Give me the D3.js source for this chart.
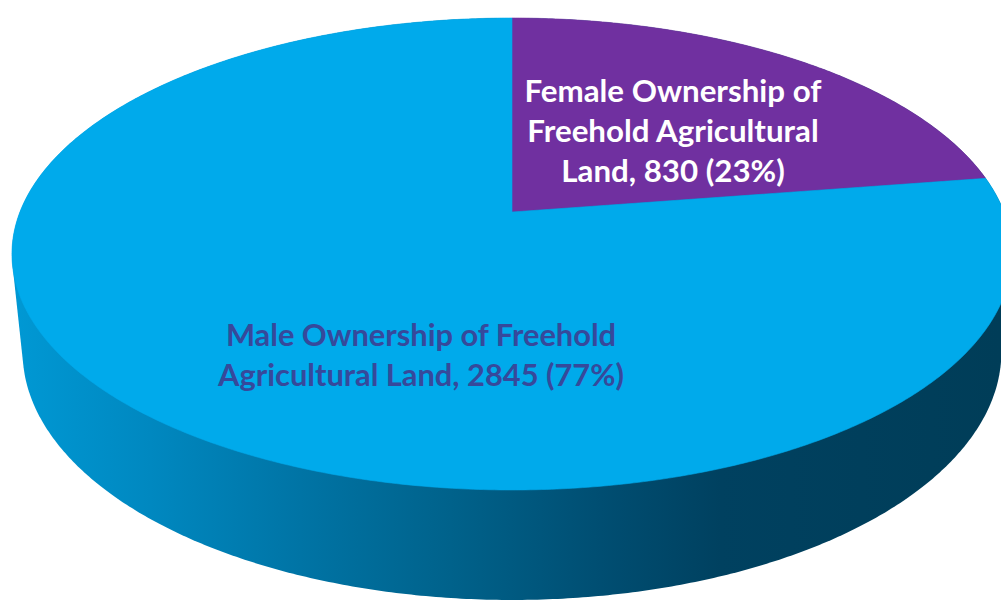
<!DOCTYPE html>
<html><head><meta charset="utf-8">
<script src="https://cdn.jsdelivr.net/npm/d3@7"></script>
<style>html,body{margin:0;padding:0;background:#fff;overflow:hidden}</style>
</head><body><svg id="chart" width="1001" height="602"></svg>
<script>
// ---- data ----
const categories = ["Female Ownership of Freehold Agricultural Land", "Male Ownership of Freehold Agricultural Land"];
const values = [830, 2845];
const labelLines = [
  ["Female Ownership of", "Freehold Agricultural", "Land, {v} ({p})"],
  ["Male Ownership of Freehold", "Agricultural Land, {v} ({p})"]
];
const sliceColors = ["#7030A0", "#00AAEB"];
const labelColors = ["#FFFFFF", "#36499B"];

// ---- layout / perspective ----
const W = 1001, H = 602;
const svg = d3.select("#chart");
const cx = 512, cy = 212, k = 2449, dist = 4.977, phi = 27.67 * Math.PI / 180, thick = 0.2263;
const c = Math.cos(phi), s = Math.sin(phi);
function proj(X, Y, Z) { const dep = dist - Y * c - Z * s; return [cx + k * X / dep, cy + k * (Y * s - Z * c) / dep]; }
function rim(a, z) { return proj(Math.sin(a), -Math.cos(a), z); }

const total = d3.sum(values);
const arcs = d3.pie().sort(null).value(d => d)(values);

// side gradient
const defs = svg.append("defs");
const grad = defs.append("linearGradient").attr("id", "side").attr("gradientUnits", "userSpaceOnUse")
  .attr("x1", 0).attr("y1", 0).attr("x2", W).attr("y2", 0);
[[0, "#009AD6"], [0.15, "#0088C0"], [0.3, "#0074A5"], [0.45, "#00628B"], [0.6, "#004E72"], [0.72, "#004160"], [1, "#003D58"]]
  .forEach(([o, col]) => grad.append("stop").attr("offset", o).attr("stop-color", col));

// cylinder silhouette (convex hull of top & bottom rims)
const N = 720;
const pts = [];
for (let i = 0; i < N; i++) { const a = 2 * Math.PI * i / N; pts.push(rim(a, 0)); pts.push(rim(a, -thick)); }
const hull = d3.polygonHull(pts);
const line = d3.line().curve(d3.curveLinearClosed);
svg.append("path").attr("d", line(hull)).attr("fill", "url(#side)");

// top face slices
arcs.forEach((arc, i) => {
  const p = [proj(0, 0, 0)];
  const n = Math.max(8, Math.ceil((arc.endAngle - arc.startAngle) / (Math.PI / 360)));
  for (let j = 0; j <= n; j++) p.push(rim(arc.startAngle + (arc.endAngle - arc.startAngle) * j / n, 0));
  svg.append("path").attr("d", line(p)).attr("fill", sliceColors[i]).attr("stroke", sliceColors[i]).attr("stroke-width", 0.6);
});

// labels
const fmtPct = v => Math.round(v / total * 100) + "%";
const labelPos = [{ x: 673, y: 101.5, dy: 40, target: 297 }, { x: 421, y: 346, dy: 39.5, target: 406 }];
labelLines.forEach((lines, i) => {
  const txt = lines.map(l => l.replace("{v}", values[i]).replace("{p}", fmtPct(values[i])));
  const g = svg.append("text").attr("text-anchor", "middle").attr("fill", labelColors[i])
    .attr("font-family", "Lato, 'Open Sans', sans-serif").attr("font-weight", "bold").attr("font-size", 30);
  const tsp = txt.map((t, j) => g.append("tspan").attr("x", labelPos[i].x).attr("y", labelPos[i].y + j * labelPos[i].dy).text(t));
  const widest = d3.max(tsp, t => t.node().getComputedTextLength());
  g.attr("font-size", 30 * labelPos[i].target / widest);
});
</script></body></html>
